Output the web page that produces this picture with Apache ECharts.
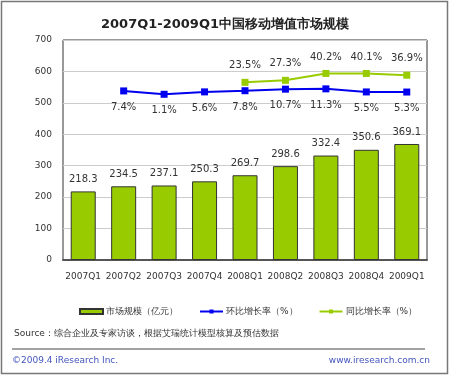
<!DOCTYPE html>
<html>
<head>
<meta charset="utf-8">
<script src="https://cdn.jsdelivr.net/npm/echarts@6/dist/echarts.min.js"></script>
<style>
  html, body { margin: 0; padding: 0; background: #fff; }
  #main { width: 450px; height: 376px; }
</style>
</head>
<body>
<div id="main"></div>
<script>
// 季度
var quarters = ['2007Q1', '2007Q2', '2007Q3', '2007Q4', '2008Q1', '2008Q2', '2008Q3', '2008Q4', '2009Q1'];
// 市场规模（亿元）
var marketSize = [218.3, 234.5, 237.1, 250.3, 269.7, 298.6, 332.4, 350.6, 369.1];
// 环比增长率（%）
var qoqGrowth = [null, 7.4, 1.1, 5.6, 7.8, 10.7, 11.3, 5.5, 5.3];
// 同比增长率（%）
var yoyGrowth = [null, null, null, null, 23.5, 27.3, 40.2, 40.1, 36.9];

var font = 'DejaVu Sans';
var chart = echarts.init(document.getElementById('main'));

var option = {
  backgroundColor: '#fff',
  animation: false,
  textStyle: { fontFamily: font },
  title: {
    text: '2007Q1-2009Q1中国移动增值市场规模',
    left: 'center',
    top: 13,
    textStyle: { fontSize: 13, fontWeight: 'bold', color: '#222', fontFamily: font }
  },
  legend: {
    top: 302,
    left: 74,
    itemGap: 21,
    itemWidth: 23,
    itemHeight: 5,
    textStyle: { fontSize: 9, color: '#333', fontFamily: font, padding: [0, 0, 0, -2] },
    data: [
      { name: '市场规模（亿元）', icon: 'rect' },
      { name: '环比增长率（%）' },
      { name: '同比增长率（%）' }
    ]
  },
  grid: {
    left: 63, right: 23, top: 40, bottom: 116,
    show: true, borderColor: '#333', borderWidth: 1
  },
  xAxis: {
    type: 'category',
    data: quarters,
    axisLine: { lineStyle: { color: '#555', width: 2 } },
    axisTick: { show: false },
    axisLabel: { fontSize: 9, color: '#333', margin: 12, interval: 0 }
  },
  yAxis: [
    {
      type: 'value', min: 0, max: 700, interval: 100,
      axisLine: { show: false },
      axisTick: { show: false },
      axisLabel: { fontSize: 9, color: '#333', margin: 11 },
      splitLine: { lineStyle: { color: '#ccc' } }
    },
    {
      type: 'value', min: -310, max: 103,
      show: false,
      splitLine: { show: false }
    }
  ],
  series: [
    {
      name: '市场规模（亿元）',
      type: 'bar',
      data: marketSize,
      barWidth: 25,
      itemStyle: { color: '#99cc00', borderColor: '#333', borderWidth: 1 },
      label: { show: true, position: 'top', distance: 7, fontSize: 10, color: '#333' }
    },
    {
      name: '环比增长率（%）',
      type: 'line',
      yAxisIndex: 1,
      data: qoqGrowth,
      symbol: 'rect',
      symbolSize: 7,
      lineStyle: { color: '#0000ee', width: 2 },
      itemStyle: { color: '#0000ee' },
      label: {
        show: true, position: 'bottom', distance: 8, fontSize: 10, color: '#333',
        formatter: function (p) { return p.value + '%'; }
      }
    },
    {
      name: '同比增长率（%）',
      type: 'line',
      yAxisIndex: 1,
      data: yoyGrowth,
      symbol: 'rect',
      symbolSize: 7,
      lineStyle: { color: '#99cc00', width: 2 },
      itemStyle: { color: '#99cc00' },
      label: {
        show: true, position: 'top', distance: 8, fontSize: 10, color: '#333',
        formatter: function (p) { return p.value + '%'; }
      }
    }
  ],
  graphic: [
    {
      type: 'rect',
      shape: { x: 1.5, y: 1.5, width: 446, height: 372 },
      style: { fill: null, stroke: '#777', lineWidth: 1.5 },
      silent: true
    },
    {
      type: 'text', left: 14, top: 329,
      style: { text: 'Source：综合企业及专家访谈，根据艾瑞统计模型核算及预估数据', fontSize: 9, fill: '#333', fontFamily: font }
    },
    {
      type: 'line',
      shape: { x1: 12, y1: 349, x2: 425, y2: 349 },
      style: { stroke: '#444', lineWidth: 1 }
    },
    {
      type: 'text', left: 12, top: 356,
      style: { text: '©2009.4 iResearch Inc.', fontSize: 9, fill: '#4455bb', fontFamily: font }
    },
    {
      type: 'text', right: 20, top: 356,
      style: { text: 'www.iresearch.com.cn', fontSize: 9, fill: '#4455bb', fontFamily: font }
    }
  ]
};

chart.setOption(option);
</script>
</body>
</html>
